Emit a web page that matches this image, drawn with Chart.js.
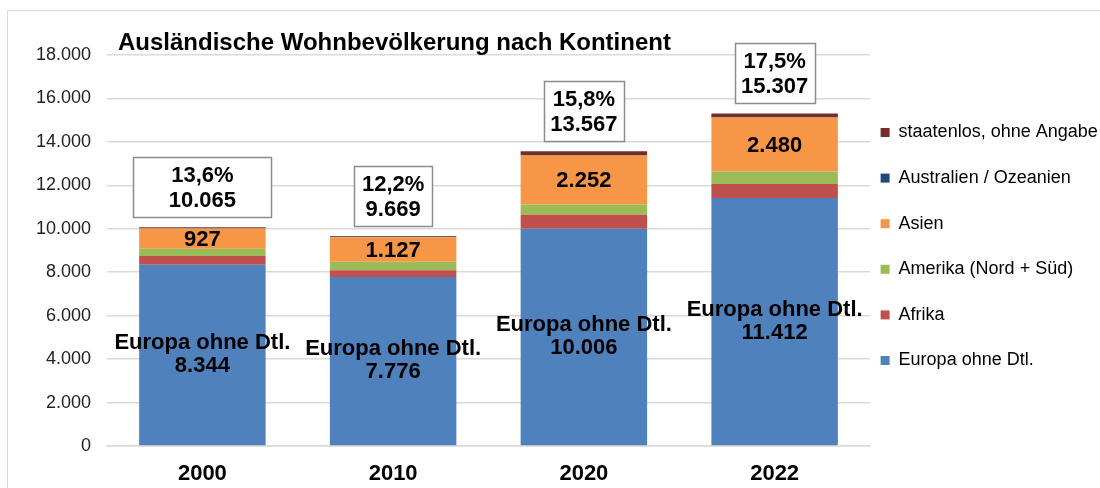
<!DOCTYPE html>
<html>
<head>
<meta charset="utf-8">
<script src="https://cdn.jsdelivr.net/npm/chart.js@4.4.1/dist/chart.umd.min.js"></script>
<style>
  html, body { margin: 0; padding: 0; background: #fff; }
  #wrap { width: 1100px; height: 488px; }
</style>
</head>
<body>
<div id="wrap"><canvas id="chart" width="1100" height="488"></canvas></div>
<script>
// Categories and series
const years = ['2000', '2010', '2020', '2022'];
const europa = [8344, 7776, 10006, 11412];
const afrika = [400, 320, 640, 650];
const amerika = [340, 385, 470, 580];
const asien = [927, 1127, 2252, 2480];
const ozeanien = [20, 25, 30, 25];
const staatenlos = [34, 36, 169, 160];
const totals = [10065, 9669, 13567, 15307];
const shares = ['13,6%', '12,2%', '15,8%', '17,5%'];

const FONT = '"Liberation Sans", Arial, sans-serif';

// German thousands separator
const fmt = v => String(v).replace(/\B(?=(\d{3})+(?!\d))/g, '.');

// Width of the total boxes above the bars
const boxWidths = [138, 78, 80, 80];

const frame = {
    id: 'frame',
    beforeDraw(chart) {
        const ctx = chart.ctx;
        ctx.save();
        ctx.strokeStyle = '#d9d9d9';
        ctx.lineWidth = 1;
        ctx.strokeRect(7.5, 10.5, 1300, 700);
        ctx.restore();
    },
    afterLayout(chart) {
        // pull legend a bit left/up, like the original (keep right edge for clipping)
        const lg = chart.legend;
        lg.left -= 17;
        lg.top -= 25; lg.bottom -= 25;
    },
    afterDraw(chart) {
        const ctx = chart.ctx;
        ctx.save();
        ctx.font = 'bold 24px ' + FONT;
        ctx.fillStyle = '#000';
        ctx.textAlign = 'left';
        ctx.textBaseline = 'alphabetic';
        ctx.fillText('Ausländische Wohnbevölkerung nach Kontinent', 118, 50);
        ctx.restore();
    }
};

const barLabels = {
    id: 'barLabels',
    afterDatasetsDraw(chart) {
        const ctx = chart.ctx;
        const y = chart.scales.y;
        const eu = chart.getDatasetMeta(0).data;
        const as = chart.getDatasetMeta(3).data;
        ctx.save();
        ctx.font = 'bold 22px ' + FONT;
        ctx.textAlign = 'center';
        ctx.textBaseline = 'middle';
        eu.forEach((bar, i) => {
            ctx.fillStyle = '#000';
            // Europa label in the middle of the blue segment
            const cy = (bar.y + bar.base) / 2;
            ctx.fillText('Europa ohne Dtl.', bar.x, cy - 12);
            ctx.fillText(fmt(europa[i]), bar.x, cy + 11);
            // Asien value
            const a = as[i];
            ctx.fillText(fmt(asien[i]), a.x, (a.y + a.base) / 2 + 1);
            // total box
            const top = y.getPixelForValue(totals[i]);
            const w = boxWidths[i], h = 60;
            const bx = Math.round(bar.x - w / 2) + 0.5;
            const by = Math.round(top - 10 - h) + 0.5;
            ctx.fillStyle = '#fff';
            ctx.fillRect(bx, by, w, h);
            ctx.strokeStyle = '#8c8c8c';
            ctx.lineWidth = 1.5;
            ctx.strokeRect(bx, by, w, h);
            ctx.fillStyle = '#000';
            ctx.fillText(shares[i], bar.x, by + h / 2 - 12);
            ctx.fillText(fmt(totals[i]), bar.x, by + h / 2 + 13);
        });
        ctx.restore();
    }
};

const ctx = document.getElementById('chart').getContext('2d');
new Chart(ctx, {
    type: 'bar',
    data: {
        labels: years,
        datasets: [
            { label: 'Europa ohne Dtl.', data: europa, backgroundColor: '#4F81BD' },
            { label: 'Afrika', data: afrika, backgroundColor: '#C0504D' },
            { label: 'Amerika (Nord + Süd)', data: amerika, backgroundColor: '#9BBB59' },
            { label: 'Asien', data: asien, backgroundColor: '#F79646' },
            { label: 'Australien / Ozeanien', data: ozeanien, backgroundColor: '#1F497D' },
            { label: 'staatenlos, ohne Angabe', data: staatenlos, backgroundColor: '#772C2A' }
        ]
    },
    options: {
        responsive: false,
        animation: false,
        devicePixelRatio: 1,
        layout: { padding: { top: 55, left: 0, right: 0, bottom: 0 } },
        datasets: { bar: { barPercentage: 0.663, categoryPercentage: 1, borderWidth: 0 } },
        plugins: {
            title: { display: false },
            tooltip: { enabled: false },
            legend: {
                position: 'right',
                reverse: true,
                maxWidth: 230,
                labels: {
                    boxWidth: 9,
                    boxHeight: 9,
                    padding: 27.6,
                    color: '#000',
                    font: { size: 18, family: FONT }
                }
            }
        },
        scales: {
            x: {
                stacked: true,
                afterFit(scale) { scale.height = 42; },
                grid: { display: false, drawTicks: false },
                border: { color: '#d9d9d9', width: 1.5 },
                ticks: { color: '#000', padding: 15, font: { size: 22, weight: 'bold', family: FONT } }
            },
            y: {
                stacked: true,
                min: 0,
                max: 18000,
                afterFit(scale) { scale.width = 107; },
                grid: { color: '#d9d9d9', lineWidth: 1.5, drawTicks: false },
                border: { display: false },
                ticks: {
                    stepSize: 2000,
                    padding: 16,
                    color: '#222',
                    font: { size: 18, family: FONT },
                    callback: v => fmt(v)
                }
            }
        }
    },
    plugins: [frame, barLabels]
});
</script>
</body>
</html>
